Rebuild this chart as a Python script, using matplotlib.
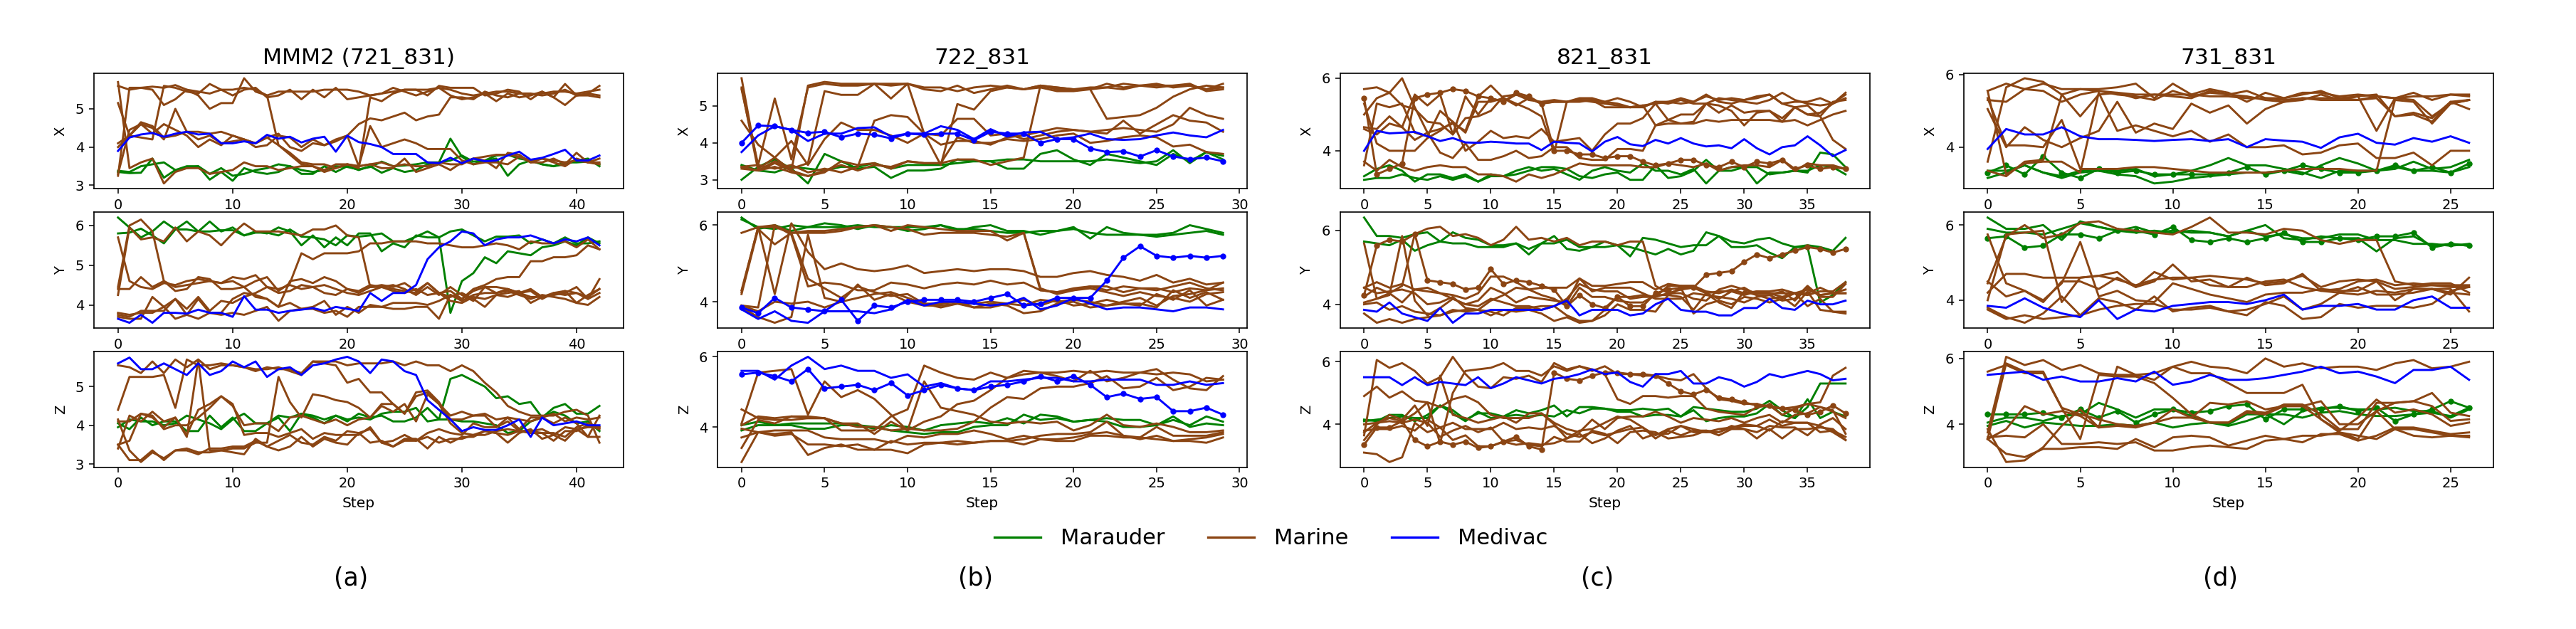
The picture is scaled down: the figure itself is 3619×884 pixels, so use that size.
import numpy as np
import matplotlib
matplotlib.use("Agg")
import matplotlib.pyplot as plt
from matplotlib.lines import Line2D
from matplotlib.ticker import MultipleLocator

# ---------------- data ----------------
titles = ["MMM2 (721_831)", "722_831", "821_831", "731_831"]
sub_labels = ["(a)", "(b)", "(c)", "(d)"]
axis_names = ["X", "Y", "Z"]
unit_names = ["Marauder", "Marine", "Medivac"]
unit_colors = ["green", "saddlebrown", "blue"]

# ---- panel (a) 721_831, 43 steps ----
a_x_marauder = [
    [3.35, 3.32, 3.33, 3.70, 3.20, 3.40, 3.45, 3.50, 3.15, 3.35,
     3.12, 3.45, 3.35, 3.30, 3.35, 3.50, 3.30, 3.30, 3.50, 3.35,
     3.50, 3.40, 3.50, 3.33, 3.45, 3.35, 3.40, 3.55, 3.60, 4.22,
     3.75, 3.55, 3.65, 3.70, 3.25, 3.55, 3.65, 3.55, 3.50, 3.55,
     3.65, 3.70, 3.50],
    [3.38, 3.35, 3.50, 3.55, 3.60, 3.40, 3.50, 3.50, 3.30, 3.45,
     3.25, 3.30, 3.40, 3.45, 3.55, 3.50, 3.40, 3.35, 3.40, 3.50,
     3.48, 3.42, 3.48, 3.62, 3.50, 3.52, 3.55, 3.60, 3.60, 3.65,
     3.78, 3.62, 3.65, 3.78, 3.80, 3.70, 3.65, 3.55, 3.50, 3.60,
     3.60, 3.62, 3.55],
]
a_x_marine = [
    [5.60, 5.50, 5.55, 5.58, 5.55, 5.62, 5.50, 5.45, 5.40, 5.50,
     5.50, 5.55, 5.50, 5.35, 5.45, 5.45, 5.45, 5.45, 5.50, 5.50,
     5.50, 5.45, 5.35, 5.40, 5.45, 5.50, 5.50, 5.50, 5.55, 5.50,
     5.40, 5.35, 5.40, 5.45, 5.45, 5.40, 5.38, 5.40, 5.45, 5.45,
     5.40, 5.45, 5.50],
    [5.15, 4.30, 4.60, 4.50, 4.20, 5.00, 4.40, 4.20, 4.30, 4.10,
     4.15, 4.20, 4.10, 4.25, 4.35, 4.00, 3.90, 4.10, 4.05, 4.15,
     4.30, 4.60, 4.75, 4.70, 4.80, 4.90, 4.70, 4.80, 4.85, 5.30,
     5.30, 5.25, 5.45, 5.35, 5.30, 5.40, 5.40, 5.35, 5.40, 5.50,
     5.35, 5.40, 5.35],
    [5.70, 3.45, 3.60, 3.70, 3.05, 3.35, 3.45, 3.45, 3.30, 3.35,
     3.40, 3.60, 3.50, 3.50, 3.40, 3.45, 3.50, 3.50, 3.35, 3.45,
     3.55, 3.50, 3.55, 3.45, 3.45, 3.70, 3.35, 3.45, 3.55, 3.40,
     3.60, 3.70, 3.65, 3.45, 3.85, 3.80, 3.60, 3.70, 3.60, 3.50,
     3.70, 3.60, 3.55],
    [4.10, 4.30, 4.65, 4.55, 4.25, 4.30, 4.40, 4.40, 4.35, 4.40,
     4.30, 4.20, 4.10, 4.25, 4.05, 3.85, 3.60, 3.55, 3.55, 3.45,
     3.55, 3.50, 3.55, 3.60, 3.50, 3.55, 3.50, 3.50, 3.60, 3.55,
     3.55, 3.70, 3.75, 3.80, 3.80, 3.75, 3.65, 3.70, 3.65, 3.60,
     3.65, 3.60, 3.60],
    [3.25, 5.55, 5.55, 5.50, 5.10, 5.25, 5.50, 5.35, 5.00, 5.15,
     5.15, 5.80, 5.45, 5.35, 4.05, 3.80, 3.55, 3.50, 3.40, 3.55,
     3.55, 3.45, 5.30, 5.20, 5.40, 5.50, 5.50, 5.35, 5.60, 5.55,
     5.55, 5.55, 5.35, 5.40, 5.50, 5.45, 5.25, 5.45, 5.30, 5.65,
     5.35, 5.40, 5.60],
    [4.00, 4.30, 4.25, 4.20, 5.60, 5.55, 5.45, 5.40, 5.65, 5.50,
     5.35, 5.50, 5.55, 5.30, 5.35, 5.50, 5.25, 5.50, 5.30, 5.55,
     5.25, 5.30, 5.35, 5.40, 5.55, 5.45, 5.35, 5.45, 5.55, 5.35,
     5.25, 5.30, 5.40, 5.20, 5.40, 5.30, 5.35, 5.45, 5.30, 5.10,
     5.35, 5.35, 5.30],
    [3.30, 4.45, 4.60, 4.35, 4.60, 4.45, 4.30, 4.00, 4.20, 4.05,
     4.30, 4.20, 4.00, 4.05, 4.30, 4.25, 4.00, 4.20, 4.05, 4.20,
     4.30, 3.50, 4.55, 4.00, 4.10, 4.20, 4.10, 3.95, 3.95, 3.95,
     3.65, 3.55, 3.60, 3.60, 3.55, 3.75, 3.60, 3.60, 3.70, 3.55,
     3.85, 3.60, 3.70],
]
a_x_medivac = [
    [3.90, 4.25, 4.33, 4.37, 4.27, 4.35, 4.40, 4.33, 4.35, 4.10,
     4.10, 4.15, 4.10, 4.32, 4.22, 4.27, 4.12, 4.22, 4.27, 3.88,
     4.30, 4.13, 4.08, 4.00, 3.82, 3.82, 3.82, 3.60, 3.58, 3.72,
     3.58, 3.70, 3.63, 3.65, 3.78, 3.88, 3.67, 3.72, 3.82, 3.93,
     3.65, 3.65, 3.78],
]
a_y_marauder = [
    [6.20, 5.95, 5.70, 5.85, 6.10, 5.90, 6.10, 5.85, 6.10, 5.85,
     5.95, 5.75, 5.85, 5.80, 5.95, 5.85, 5.50, 5.75, 5.45, 5.70,
     5.50, 5.80, 5.80, 5.35, 5.55, 5.45, 5.75, 5.70, 5.70, 3.80,
     4.60, 4.80, 5.20, 5.05, 5.35, 5.30, 5.25, 5.45, 5.50, 5.60,
     5.50, 5.70, 5.55],
    [5.80, 5.82, 5.92, 5.75, 5.55, 5.90, 5.90, 5.85, 5.85, 5.88,
     5.88, 5.75, 5.82, 5.82, 5.75, 5.90, 5.72, 5.70, 5.65, 5.50,
     5.75, 5.72, 5.75, 5.80, 5.60, 5.60, 5.72, 5.85, 5.70, 5.85,
     5.90, 5.75, 5.60, 5.72, 5.72, 5.75, 5.55, 5.65, 5.55, 5.70,
     5.55, 5.55, 5.60],
]
a_y_marine = [
    [5.70, 4.60, 4.45, 4.40, 4.55, 4.50, 4.60, 4.65, 4.60, 4.55,
     4.60, 4.45, 4.60, 4.70, 4.35, 4.55, 5.30, 5.15, 5.30, 5.30,
     5.30, 5.35, 5.55, 5.55, 5.60, 5.60, 5.60, 5.55, 5.55, 5.50,
     5.45, 5.45, 5.50, 5.55, 5.50, 5.40, 5.60, 5.55, 5.55, 5.60,
     5.45, 5.65, 5.40],
    [4.45, 6.00, 6.15, 5.85, 4.60, 4.45, 4.50, 4.55, 4.60, 4.55,
     4.70, 4.65, 4.75, 4.45, 4.40, 4.50, 4.40, 4.45, 4.30, 4.25,
     4.40, 4.35, 4.50, 4.45, 4.35, 4.30, 4.40, 4.25, 4.30, 4.10,
     4.05, 4.20, 4.15, 4.25, 4.30, 4.35, 4.05, 4.20, 4.25, 4.35,
     4.30, 4.20, 4.40],
    [4.25, 5.95, 5.65, 5.70, 5.60, 5.95, 5.60, 5.85, 5.75, 5.50,
     5.80, 6.05, 5.85, 5.85, 5.85, 5.80, 5.75, 5.90, 5.90, 6.00,
     5.75, 5.70, 4.45, 4.45, 4.40, 4.35, 4.30, 4.55, 4.30, 4.35,
     4.15, 4.40, 4.50, 4.65, 4.70, 4.70, 5.10, 5.10, 5.20, 5.20,
     5.25, 5.50, 5.40],
    [4.40, 4.40, 4.70, 4.45, 4.60, 4.35, 4.40, 4.70, 4.65, 4.40,
     4.40, 4.45, 4.20, 4.15, 3.95, 4.60, 4.65, 4.55, 4.70, 4.60,
     4.40, 4.30, 4.45, 4.50, 4.45, 4.55, 4.35, 4.55, 4.30, 4.20,
     4.30, 4.15, 3.95, 4.25, 4.20, 4.30, 4.20, 4.20, 4.25, 4.30,
     4.45, 4.15, 4.65],
    [3.80, 3.75, 3.80, 3.80, 3.95, 4.15, 3.90, 4.20, 3.85, 4.10,
     4.05, 4.20, 4.30, 4.45, 4.30, 4.35, 4.50, 4.45, 4.50, 4.40,
     4.30, 4.25, 4.35, 4.45, 4.50, 4.40, 4.25, 4.45, 4.25, 4.45,
     4.25, 4.10, 4.45, 4.45, 4.40, 4.30, 4.35, 4.15, 4.30, 4.35,
     4.05, 4.25, 4.40],
    [3.70, 3.65, 3.65, 4.20, 3.95, 3.65, 3.75, 3.65, 3.80, 3.75,
     3.80, 3.75, 3.85, 3.95, 3.60, 3.85, 3.90, 3.90, 3.80, 3.85,
     3.70, 3.95, 3.95, 3.95, 3.90, 3.90, 3.95, 3.95, 3.65, 4.25,
     4.10, 4.25, 4.30, 4.30, 4.35, 4.25, 4.15, 4.25, 4.20, 4.15,
     4.05, 4.00, 4.20],
    [3.75, 3.70, 3.85, 3.85, 3.85, 4.15, 3.75, 4.15, 3.80, 3.80,
     4.15, 4.30, 4.25, 4.15, 3.95, 4.05, 3.90, 3.95, 4.10, 3.75,
     3.95, 3.80, 4.00, 3.95, 4.05, 4.05, 4.05, 4.00, 4.10, 4.25,
     4.15, 4.35, 4.45, 4.30, 4.40, 4.30, 4.40, 4.20, 4.30, 4.25,
     4.30, 4.15, 4.30],
]
a_y_medivac = [
    [3.65, 3.55, 3.75, 3.55, 3.80, 3.80, 3.78, 3.88, 3.80, 3.80,
     3.70, 4.22, 3.88, 3.88, 3.80, 3.85, 3.88, 3.92, 3.85, 3.95,
     3.90, 3.85, 4.30, 4.10, 4.30, 4.30, 4.50, 5.15, 5.45, 5.60,
     5.85, 5.80, 5.50, 5.65, 5.70, 5.70, 5.75, 5.65, 5.55, 5.65,
     5.60, 5.70, 5.50],
]
a_z_marauder = [
    [3.95, 4.15, 4.10, 4.10, 4.00, 4.05, 4.25, 4.15, 4.05, 3.90,
     4.15, 4.30, 4.05, 4.05, 4.25, 4.20, 4.30, 4.25, 4.15, 4.25,
     4.10, 4.30, 4.20, 4.25, 4.10, 4.10, 4.20, 4.45, 4.15, 5.20,
     5.30, 5.15, 5.00, 4.70, 4.75, 4.55, 4.60, 4.20, 4.45, 4.55,
     4.30, 4.30, 4.50],
    [4.05, 3.90, 4.20, 4.00, 4.10, 4.10, 3.85, 3.85, 4.25, 3.95,
     4.20, 3.85, 3.85, 4.05, 4.20, 3.85, 4.30, 4.20, 4.05, 4.25,
     4.15, 4.20, 4.15, 4.30, 4.35, 4.35, 4.45, 4.10, 4.15, 4.15,
     4.10, 4.10, 4.05, 4.00, 3.80, 3.85, 4.10, 4.20, 4.35, 4.25,
     4.05, 4.10, 3.85],
]
a_z_marine = [
    [5.55, 5.50, 5.35, 5.65, 5.35, 5.70, 5.50, 5.70, 5.45, 5.55,
     5.55, 5.50, 5.40, 5.50, 5.45, 5.45, 5.35, 5.65, 5.65, 5.65,
     5.55, 5.60, 5.60, 5.60, 5.65, 5.55, 5.65, 5.55, 5.55, 5.40,
     5.55, 5.40, 5.10, 4.85, 4.50, 4.35, 4.25, 4.25, 4.25, 4.35,
     4.40, 4.25, 3.55],
    [4.40, 5.25, 5.25, 5.25, 5.30, 4.45, 5.70, 5.55, 5.55, 5.60,
     5.55, 5.50, 5.45, 5.45, 5.50, 5.40, 5.30, 5.65, 5.60, 5.55,
     5.10, 5.20, 4.85, 4.85, 4.55, 4.30, 4.85, 4.90, 4.60, 4.15,
     4.15, 4.25, 4.25, 3.95, 4.10, 3.85, 3.85, 3.80, 3.60, 3.85,
     3.85, 4.00, 3.90],
    [3.40, 4.25, 4.10, 4.35, 4.10, 4.20, 3.70, 5.70, 3.35, 3.35,
     3.40, 3.40, 3.55, 3.55, 5.25, 4.60, 4.20, 4.80, 4.75, 4.65,
     4.60, 4.45, 4.20, 4.50, 4.35, 4.55, 4.10, 4.80, 4.55, 4.05,
     3.80, 3.75, 3.75, 3.85, 3.90, 3.85, 3.85, 3.90, 3.75, 3.95,
     3.90, 3.95, 3.95],
    [4.15, 3.35, 3.05, 3.30, 3.15, 3.35, 3.40, 3.30, 3.30, 3.35,
     3.30, 3.25, 3.65, 3.45, 3.60, 3.75, 3.55, 3.50, 3.70, 3.60,
     3.85, 3.80, 3.55, 3.60, 3.45, 3.60, 3.60, 3.70, 3.55, 3.65,
     3.65, 3.75, 3.85, 3.80, 3.55, 3.80, 3.90, 3.65, 3.75, 3.60,
     3.90, 3.70, 3.70],
    [3.50, 3.10, 3.10, 3.35, 3.10, 3.35, 3.35, 3.25, 3.40, 3.40,
     3.45, 3.45, 3.60, 3.45, 3.35, 3.45, 3.70, 3.45, 3.65, 3.55,
     3.50, 3.80, 3.90, 3.55, 3.45, 3.65, 3.65, 3.40, 3.70, 3.55,
     3.70, 3.70, 3.85, 3.80, 3.75, 3.85, 3.80, 3.80, 3.80, 3.70,
     3.95, 4.05, 3.95],
    [3.50, 3.60, 4.30, 4.20, 3.95, 4.20, 3.75, 4.40, 4.55, 4.75,
     4.55, 3.75, 3.80, 3.80, 3.70, 3.80, 3.90, 3.65, 3.80, 3.75,
     3.75, 3.75, 3.95, 3.55, 3.60, 3.75, 3.60, 3.80, 3.90, 3.80,
     3.75, 4.05, 3.95, 3.95, 4.20, 3.90, 4.20, 4.20, 4.05, 4.20,
     4.05, 3.70, 4.25],
    [4.10, 4.10, 4.30, 4.25, 3.90, 4.00, 4.00, 4.20, 4.45, 4.75,
     4.50, 4.00, 4.05, 4.05, 3.85, 4.20, 4.25, 4.15, 4.05, 4.15,
     4.00, 4.15, 4.20, 4.55, 4.55, 4.30, 4.75, 4.85, 4.55, 4.25,
     4.35, 4.25, 4.30, 4.15, 4.20, 4.15, 4.10, 4.20, 4.30, 4.10,
     4.20, 4.15, 4.20],
]
a_z_medivac = [
    [5.60, 5.75, 5.45, 5.45, 5.60, 5.45, 5.30, 5.60, 5.30, 5.40,
     5.65, 5.50, 5.65, 5.25, 5.45, 5.50, 5.30, 5.55, 5.60, 5.70,
     5.77, 5.65, 5.35, 5.70, 5.65, 5.40, 5.30, 4.65, 4.40, 4.15,
     3.85, 3.95, 3.88, 3.88, 4.00, 4.15, 3.70, 4.20, 4.00, 4.05,
     4.10, 4.00, 4.00],
]

# ---- panel (b) 722_831, 30 steps ----
b_x_marauder = [
    [3.00, 3.35, 3.55, 3.30, 2.90, 3.70, 3.50, 3.30, 3.35, 3.05,
     3.25, 3.25, 3.30, 3.55, 3.50, 3.50, 3.30, 3.30, 3.70, 3.80,
     3.55, 3.40, 3.70, 3.60, 3.50, 3.40, 3.70, 3.50, 3.75, 3.65],
    [3.40, 3.25, 3.20, 3.35, 3.30, 3.25, 3.35, 3.35, 3.45, 3.30,
     3.40, 3.40, 3.40, 3.45, 3.50, 3.50, 3.55, 3.55, 3.50, 3.50,
     3.50, 3.50, 3.55, 3.50, 3.45, 3.50, 3.80, 3.45, 3.75, 3.55],
]
b_x_marine = [
    [5.75, 3.30, 3.60, 3.25, 5.55, 5.65, 5.60, 5.60, 5.60, 5.60,
     5.60, 5.45, 5.40, 5.55, 5.35, 5.45, 5.55, 5.45, 5.55, 5.45,
     5.45, 5.45, 5.60, 5.50, 5.55, 5.60, 5.50, 5.55, 5.45, 5.60],
    [5.45, 3.40, 5.20, 3.55, 5.50, 5.60, 5.55, 5.55, 5.60, 5.55,
     5.60, 5.50, 5.50, 5.40, 5.50, 5.55, 5.50, 5.45, 5.55, 5.50,
     5.45, 5.50, 5.50, 5.60, 5.55, 5.55, 5.55, 5.55, 5.45, 5.50],
    [5.50, 3.25, 3.50, 3.30, 3.45, 5.40, 5.30, 5.30, 5.60, 5.20,
     5.60, 4.25, 3.40, 5.05, 4.90, 5.40, 5.50, 5.45, 5.50, 5.40,
     5.40, 5.45, 4.65, 4.70, 4.75, 4.95, 5.25, 5.45, 5.55, 5.50],
    [4.60, 3.95, 3.60, 4.05, 3.40, 4.10, 4.55, 4.35, 4.35, 4.20,
     4.00, 4.25, 4.20, 4.65, 4.65, 4.20, 4.25, 4.10, 4.20, 4.30,
     4.35, 4.30, 4.35, 4.40, 4.35, 4.30, 4.50, 4.95, 4.75, 4.65],
    [3.35, 3.40, 3.30, 3.40, 3.20, 3.30, 3.20, 3.35, 4.60, 4.75,
     4.70, 4.25, 3.95, 4.05, 4.05, 3.95, 4.15, 4.20, 4.30, 4.40,
     4.35, 4.30, 4.25, 4.60, 4.25, 4.50, 4.75, 4.60, 4.55, 4.30],
    [3.30, 3.25, 3.45, 3.25, 3.10, 3.20, 3.50, 3.40, 3.45, 3.30,
     3.50, 3.45, 3.45, 3.55, 3.55, 3.40, 3.50, 3.60, 5.55, 5.50,
     5.45, 5.45, 5.50, 5.45, 5.55, 5.50, 5.55, 5.60, 5.40, 5.45],
    [3.35, 3.25, 3.35, 3.20, 3.10, 3.25, 3.40, 3.25, 3.40, 3.35,
     3.50, 3.45, 3.45, 4.15, 4.00, 4.00, 4.10, 4.05, 4.10, 4.20,
     4.25, 4.00, 4.05, 4.15, 4.20, 4.15, 3.90, 3.95, 3.75, 3.70],
]
b_x_medivac = [
    [4.00, 4.47, 4.45, 4.35, 4.27, 4.30, 4.15, 4.25, 4.22, 4.12,
     4.25, 4.22, 4.25, 4.25, 4.07, 4.30, 4.25, 4.25, 4.00, 4.10,
     4.10, 3.85, 3.75, 3.77, 3.63, 3.80, 3.63, 3.56, 3.60, 3.50],
    [3.75, 4.20, 4.45, 4.35, 4.05, 4.25, 4.25, 4.40, 4.42, 4.17,
     4.25, 4.25, 4.45, 4.35, 4.10, 4.37, 4.17, 4.28, 4.30, 4.10,
     4.15, 4.25, 4.10, 4.08, 4.10, 4.20, 4.28, 4.20, 4.15, 4.35],
]
b_y_marauder = [
    [6.20, 5.90, 6.00, 5.85, 5.95, 6.05, 6.00, 5.90, 6.00, 5.95,
     5.95, 5.95, 6.00, 5.90, 5.90, 5.85, 5.80, 5.80, 5.85, 5.85,
     5.90, 5.80, 5.75, 5.75, 5.75, 5.70, 5.75, 5.80, 5.85, 5.75],
    [6.15, 5.95, 5.90, 6.00, 5.95, 5.95, 5.95, 6.00, 5.95, 5.95,
     5.85, 5.90, 6.00, 5.85, 5.95, 6.00, 5.85, 5.85, 5.75, 5.85,
     5.95, 5.65, 5.95, 5.80, 5.75, 5.75, 5.80, 6.00, 5.90, 5.80],
]
b_y_marine = [
    [5.80, 5.95, 6.00, 5.80, 5.80, 5.80, 5.85, 5.95, 6.00, 5.85,
     6.00, 5.95, 5.90, 5.85, 5.85, 5.85, 5.60, 5.80, 4.35, 4.20,
     4.30, 4.40, 4.40, 4.25, 4.35, 4.30, 4.40, 4.50, 4.35, 4.30],
    [4.20, 5.90, 5.50, 5.80, 5.85, 5.85, 5.90, 5.95, 6.00, 5.95,
     5.90, 5.75, 5.80, 5.80, 5.80, 5.75, 5.70, 5.80, 4.30, 4.25,
     4.35, 4.40, 4.30, 4.40, 4.35, 4.35, 4.25, 4.35, 4.30, 4.35],
    [4.30, 5.95, 4.20, 6.05, 5.30, 4.85, 5.00, 4.85, 4.80, 4.85,
     4.95, 4.75, 4.80, 4.85, 4.80, 4.85, 4.85, 4.80, 4.65, 4.65,
     4.75, 4.80, 4.70, 4.65, 4.55, 4.70, 4.50, 4.60, 4.45, 4.50],
    [3.90, 3.85, 6.00, 5.75, 4.40, 4.50, 4.45, 4.30, 4.30, 4.50,
     4.45, 4.35, 4.45, 4.50, 4.45, 4.55, 4.45, 4.50, 4.30, 4.25,
     4.30, 4.35, 4.25, 4.15, 4.25, 4.15, 4.10, 4.00, 4.20, 4.25],
    [3.85, 3.60, 3.45, 3.60, 5.75, 4.10, 4.00, 4.10, 4.20, 4.25,
     4.10, 3.95, 3.95, 4.00, 3.85, 3.95, 3.90, 3.70, 3.75, 3.95,
     4.00, 3.85, 3.90, 4.00, 4.10, 3.90, 4.15, 4.20, 4.30, 4.50],
    [4.25, 5.95, 5.95, 5.80, 4.60, 4.35, 4.10, 4.40, 4.25, 4.15,
     4.20, 3.95, 3.85, 3.95, 3.85, 3.85, 3.95, 3.90, 4.05, 4.00,
     4.05, 4.00, 3.90, 3.95, 3.95, 3.85, 4.30, 4.10, 4.25, 4.05],
    [3.90, 3.75, 4.00, 3.95, 4.00, 3.85, 4.00, 4.45, 4.05, 4.20,
     4.00, 3.90, 3.90, 3.95, 3.95, 4.00, 3.95, 4.05, 3.90, 4.05,
     3.90, 3.95, 4.05, 3.95, 3.90, 4.20, 4.05, 4.30, 3.90, 4.05],
]
b_y_medivac = [
    [3.85, 3.70, 4.10, 3.85, 3.80, 3.75, 4.05, 3.50, 3.90, 3.85,
     4.00, 4.05, 4.05, 4.05, 4.00, 4.10, 4.20, 3.90, 3.95, 4.10,
     4.10, 4.10, 4.55, 5.15, 5.45, 5.20, 5.15, 5.20, 5.15, 5.20],
    [3.80, 3.55, 3.75, 3.50, 3.45, 3.75, 3.75, 3.75, 3.70, 3.80,
     4.05, 3.90, 4.00, 4.00, 3.95, 3.90, 3.95, 4.10, 3.80, 3.90,
     4.10, 3.95, 3.80, 3.85, 3.85, 3.80, 3.75, 3.85, 3.85, 3.80],
]
b_z_marauder = [
    [4.05, 4.15, 4.05, 4.10, 4.10, 4.10, 4.10, 4.05, 3.95, 4.05,
     4.00, 3.90, 4.05, 4.10, 4.15, 4.10, 4.25, 4.10, 4.35, 4.30,
     4.15, 4.20, 4.25, 4.20, 4.20, 4.05, 4.20, 4.05, 4.30, 4.15],
    [3.90, 4.05, 4.05, 4.05, 3.95, 3.95, 4.05, 4.05, 4.00, 3.90,
     3.85, 3.80, 3.85, 3.85, 4.00, 4.05, 4.05, 4.35, 4.20, 4.25,
     4.15, 4.20, 4.15, 4.00, 4.00, 4.05, 4.30, 4.00, 4.10, 4.05],
]
b_z_marine = [
    [4.50, 4.25, 4.20, 4.20, 4.25, 4.25, 3.90, 3.90, 3.90, 4.30,
     4.50, 5.75, 5.55, 5.40, 5.35, 5.55, 5.40, 5.60, 5.55, 5.55,
     5.60, 5.55, 5.60, 5.55, 5.55, 5.50, 5.55, 5.50, 5.30, 5.35],
    [4.05, 4.30, 4.25, 4.30, 4.25, 4.25, 4.10, 4.00, 4.00, 3.90,
     3.95, 3.90, 3.90, 3.95, 4.15, 4.55, 4.85, 4.80, 5.10, 5.15,
     5.15, 5.25, 5.45, 5.10, 5.15, 5.40, 5.05, 5.15, 5.40, 5.35],
    [4.10, 5.55, 5.60, 5.65, 4.35, 5.30, 4.85, 5.05, 4.80, 4.35,
     3.90, 5.30, 4.55, 4.45, 4.35, 4.15, 4.10, 4.15, 4.10, 4.15,
     3.90, 4.05, 4.35, 4.05, 4.00, 4.10, 4.00, 3.85, 3.85, 3.90],
    [3.40, 4.20, 4.10, 4.30, 4.30, 4.25, 4.10, 4.10, 3.80, 4.15,
     3.90, 4.15, 4.30, 4.65, 4.75, 5.05, 5.40, 5.50, 5.55, 5.45,
     5.30, 5.60, 5.30, 5.40, 5.55, 5.65, 5.35, 5.10, 5.05, 5.45],
    [3.70, 3.85, 3.90, 3.90, 3.90, 3.70, 3.65, 3.65, 3.65, 3.55,
     3.75, 3.70, 3.80, 3.80, 3.90, 3.80, 3.65, 3.75, 3.65, 3.65,
     3.70, 3.80, 3.85, 3.75, 3.65, 3.75, 3.60, 3.60, 3.55, 3.70],
    [3.95, 3.85, 3.75, 3.80, 3.50, 3.50, 3.45, 3.50, 3.35, 3.35,
     3.25, 3.50, 3.55, 3.50, 3.55, 3.60, 3.60, 3.50, 3.65, 3.60,
     3.60, 3.75, 3.75, 3.70, 3.70, 3.65, 3.60, 3.65, 3.70, 3.80],
    [3.00, 3.85, 3.80, 3.85, 3.20, 3.40, 3.50, 3.35, 3.35, 3.60,
     3.50, 3.55, 3.55, 3.60, 3.55, 3.60, 3.60, 3.65, 3.75, 3.80,
     3.80, 3.85, 4.15, 3.75, 3.70, 4.00, 3.75, 3.75, 3.75, 3.85],
]
b_z_medivac = [
    [5.50, 5.55, 5.45, 5.30, 5.65, 5.10, 5.15, 5.20, 5.05, 5.25,
     4.90, 5.05, 5.20, 5.10, 5.05, 5.15, 5.20, 5.30, 5.45, 5.30,
     5.45, 5.20, 4.85, 4.95, 4.80, 4.85, 4.45, 4.45, 4.55, 4.35],
    [5.60, 5.60, 5.35, 5.75, 6.00, 5.65, 5.75, 5.60, 5.60, 5.40,
     5.50, 5.15, 5.25, 5.10, 5.05, 5.30, 5.30, 5.35, 5.40, 5.40,
     5.30, 5.30, 5.35, 5.35, 5.35, 5.20, 5.20, 5.30, 5.20, 5.25],
]

# ---- panel (c) 821_831, 39 steps ----
c_x_marauder = [
    [3.30, 3.50, 3.60, 3.45, 3.15, 3.35, 3.35, 3.25, 3.35, 3.15,
     3.35, 3.30, 3.45, 3.55, 3.45, 3.50, 3.35, 3.20, 3.45, 3.55,
     3.45, 3.40, 3.65, 3.45, 3.45, 3.35, 3.50, 3.10, 3.45, 3.45,
     3.55, 3.10, 3.40, 3.40, 3.45, 3.40, 3.95, 3.90, 3.55],
    [3.20, 3.25, 3.25, 3.35, 3.25, 3.20, 3.30, 3.20, 3.30, 3.15,
     3.30, 3.30, 3.35, 3.45, 3.55, 3.55, 3.50, 3.30, 3.25, 3.35,
     3.40, 3.20, 3.20, 3.60, 3.25, 3.30, 3.45, 3.75, 3.45, 3.55,
     3.55, 3.55, 3.35, 3.40, 3.45, 3.45, 3.60, 3.55, 3.35],
]
c_x_marine = [
    [5.45, 3.35, 3.50, 3.65, 5.45, 5.55, 5.60, 5.70, 5.65, 5.50,
     5.45, 5.35, 5.60, 5.50, 5.30, 4.00, 4.00, 3.90, 3.90, 3.80,
     3.85, 3.85, 3.70, 3.60, 3.65, 3.75, 3.75, 3.60, 3.55, 3.70,
     3.55, 3.70, 3.65, 3.75, 3.50, 3.60, 3.50, 3.55, 3.50],
    [5.70, 5.75, 5.60, 5.25, 5.15, 4.80, 4.75, 4.45, 4.90, 4.95,
     5.10, 5.50, 5.55, 5.45, 5.30, 5.35, 5.35, 5.45, 5.45, 5.35,
     5.45, 5.35, 5.20, 5.35, 5.35, 5.45, 5.35, 5.55, 5.35, 5.30,
     5.40, 5.45, 5.55, 5.30, 5.35, 5.35, 5.45, 5.30, 5.55],
    [5.00, 5.45, 5.60, 6.00, 5.20, 4.50, 4.60, 4.75, 4.55, 5.50,
     5.80, 5.45, 5.25, 5.45, 5.30, 5.35, 5.35, 5.40, 5.40, 5.35,
     5.30, 5.20, 5.20, 5.35, 5.30, 5.40, 5.30, 5.30, 5.45, 5.40,
     5.35, 5.30, 5.40, 5.60, 5.40, 5.30, 5.25, 5.30, 5.60],
    [3.60, 5.30, 5.20, 5.30, 4.50, 4.40, 5.10, 4.80, 4.50, 5.35,
     5.35, 5.45, 5.30, 5.15, 4.95, 3.95, 5.35, 5.40, 5.35, 5.30,
     5.25, 5.20, 5.25, 5.30, 4.85, 5.00, 5.00, 5.30, 5.05, 5.25,
     5.05, 5.10, 5.10, 4.90, 5.20, 5.00, 5.05, 5.30, 5.45],
    [4.65, 4.60, 4.95, 4.65, 5.55, 5.25, 5.55, 4.45, 5.50, 5.00,
     5.45, 5.35, 5.55, 5.40, 5.35, 5.40, 5.35, 5.35, 5.40, 5.20,
     5.20, 5.20, 5.25, 4.70, 4.75, 4.75, 4.80, 5.30, 5.25, 5.10,
     4.70, 5.05, 5.10, 4.80, 5.20, 5.25, 4.95, 5.35, 5.40],
    [5.30, 4.20, 4.00, 4.00, 4.00, 4.35, 4.55, 4.80, 4.00, 4.25,
     4.55, 4.35, 4.40, 4.35, 4.60, 4.25, 4.30, 4.35, 4.00, 4.45,
     4.75, 4.75, 4.90, 5.30, 5.35, 5.30, 5.35, 5.50, 5.40, 5.45,
     5.40, 5.50, 5.55, 5.30, 5.20, 5.00, 4.95, 4.30, 4.05],
    [4.60, 4.45, 4.75, 4.65, 4.30, 4.50, 3.95, 3.80, 4.20, 3.75,
     3.75, 3.85, 4.00, 3.80, 3.85, 4.10, 4.10, 3.80, 3.75, 3.75,
     4.05, 4.05, 4.00, 4.70, 4.85, 4.75, 4.75, 4.85, 4.80, 4.85,
     4.85, 4.85, 4.85, 4.80, 4.85, 4.70, 4.85, 5.00, 5.10],
    [3.70, 3.45, 3.75, 3.55, 3.45, 3.55, 3.60, 3.55, 3.55, 3.35,
     3.35, 3.30, 3.15, 3.35, 3.25, 3.35, 3.50, 3.65, 3.60, 3.60,
     3.60, 3.60, 3.55, 3.55, 3.65, 3.60, 3.55, 3.65, 3.45, 3.55,
     3.60, 3.60, 3.55, 3.75, 3.45, 3.65, 3.60, 3.60, 3.50],
]
c_x_medivac = [
    [4.00, 4.55, 4.48, 4.50, 4.52, 4.40, 4.27, 4.35, 4.23, 4.22,
     4.25, 4.23, 4.20, 4.20, 4.02, 4.25, 4.22, 4.20, 3.98, 4.25,
     4.38, 4.18, 4.13, 4.30, 4.20, 4.35, 4.20, 4.12, 4.15, 4.07,
     4.32, 4.07, 3.90, 4.10, 4.15, 4.40, 4.15, 3.85, 4.02],
]
c_y_marauder = [
    [6.35, 5.85, 5.85, 5.80, 5.90, 5.95, 5.70, 5.95, 5.80, 5.75,
     5.60, 5.60, 5.65, 5.35, 5.65, 5.85, 5.50, 5.45, 5.55, 5.55,
     5.60, 5.30, 5.80, 5.75, 5.65, 5.55, 5.60, 5.60, 5.85, 5.70,
     5.65, 5.75, 5.80, 5.65, 5.55, 5.55, 4.05, 4.25, 4.60],
    [5.70, 5.65, 5.60, 5.75, 5.45, 5.60, 5.70, 5.65, 5.65, 5.55,
     5.55, 5.55, 5.65, 5.50, 5.65, 5.65, 5.75, 5.55, 5.55, 5.70,
     5.60, 5.55, 5.45, 5.35, 5.50, 5.35, 5.45, 5.95, 5.85, 5.55,
     5.55, 5.60, 5.40, 5.25, 5.55, 5.60, 5.55, 5.45, 5.80],
]
c_y_marine = [
    [4.25, 5.60, 5.75, 5.70, 5.90, 4.65, 4.60, 4.55, 4.40, 4.45,
     4.95, 4.55, 4.65, 4.60, 4.50, 4.40, 3.95, 4.25, 4.00, 3.90,
     4.20, 3.95, 3.95, 4.30, 4.40, 4.45, 4.45, 4.80, 4.85, 4.90,
     5.15, 5.35, 5.25, 5.35, 5.45, 5.55, 5.50, 5.40, 5.50],
    [5.65, 4.15, 4.30, 4.50, 5.90, 6.05, 6.10, 5.85, 5.90, 5.80,
     5.60, 5.75, 6.10, 5.75, 5.80, 5.70, 5.80, 5.60, 5.70, 5.70,
     5.60, 5.70, 5.70, 4.50, 4.30, 4.40, 4.45, 4.30, 4.35, 4.35,
     4.25, 4.35, 4.30, 4.30, 4.30, 4.25, 4.35, 4.35, 4.60],
    [4.45, 4.60, 4.45, 4.55, 4.40, 4.45, 4.30, 4.25, 4.15, 4.30,
     4.75, 4.75, 4.60, 4.40, 4.45, 4.45, 4.45, 4.70, 4.50, 4.50,
     4.55, 4.60, 4.60, 4.40, 4.55, 4.50, 4.50, 4.35, 4.30, 4.40,
     4.30, 4.35, 4.35, 4.40, 4.30, 4.30, 4.45, 4.30, 4.30],
    [4.20, 4.45, 4.30, 4.05, 4.40, 4.35, 4.30, 4.15, 4.00, 4.10,
     4.45, 4.30, 4.05, 4.20, 4.15, 4.10, 4.05, 4.70, 4.35, 4.45,
     4.45, 4.45, 4.30, 4.15, 4.15, 4.15, 4.30, 4.25, 4.20, 4.15,
     4.05, 4.20, 4.25, 4.10, 4.15, 4.50, 4.20, 4.20, 4.55],
    [4.05, 4.15, 4.25, 5.85, 4.10, 3.70, 3.90, 4.15, 4.00, 3.95,
     4.15, 4.05, 3.95, 3.95, 3.85, 3.95, 4.15, 4.55, 4.40, 4.35,
     4.35, 4.15, 4.20, 4.20, 4.30, 4.30, 4.15, 4.10, 4.40, 4.50,
     4.40, 4.30, 4.30, 4.20, 4.30, 4.40, 4.25, 4.30, 4.30],
    [3.75, 3.50, 3.60, 3.50, 3.60, 3.65, 3.70, 3.80, 3.85, 3.85,
     3.70, 3.85, 3.80, 3.85, 3.75, 3.55, 3.65, 3.50, 3.55, 3.85,
     4.20, 4.20, 4.25, 4.20, 4.50, 4.50, 4.50, 4.30, 4.15, 4.35,
     4.45, 4.25, 4.25, 4.35, 4.10, 4.45, 4.25, 4.30, 4.40],
    [4.00, 4.05, 3.85, 3.95, 3.80, 3.75, 3.70, 3.85, 3.80, 3.85,
     3.80, 3.70, 3.90, 3.90, 3.95, 3.95, 3.70, 3.55, 3.55, 3.70,
     4.00, 3.85, 3.85, 3.80, 4.25, 4.45, 3.75, 4.00, 4.10, 4.00,
     4.20, 4.15, 4.05, 4.15, 4.30, 3.95, 4.15, 3.80, 3.75],
    [4.45, 4.30, 4.35, 4.40, 4.30, 4.00, 4.05, 4.20, 3.90, 3.85,
     4.10, 4.25, 4.45, 4.40, 4.25, 4.15, 3.95, 4.45, 4.20, 4.20,
     4.10, 4.05, 4.05, 4.25, 4.25, 4.20, 3.85, 4.30, 4.05, 3.90,
     4.35, 4.25, 4.15, 4.20, 3.95, 4.35, 3.85, 3.80, 3.80],
]
c_y_medivac = [
    [3.85, 3.80, 4.05, 3.75, 3.65, 3.55, 3.90, 3.50, 3.75, 3.75,
     3.85, 3.85, 3.85, 3.85, 3.85, 3.95, 4.10, 3.70, 3.85, 3.85,
     3.85, 3.70, 3.75, 4.00, 4.15, 3.85, 3.80, 3.80, 3.70, 3.70,
     3.90, 3.90, 4.15, 3.90, 3.85, 4.10, 4.00, 4.00, 4.10],
]
c_z_marauder = [
    [4.15, 4.10, 4.30, 4.30, 4.10, 4.30, 4.60, 4.45, 4.15, 4.35,
     4.35, 4.25, 4.45, 4.35, 4.45, 4.60, 4.25, 4.55, 4.55, 4.50,
     4.45, 4.45, 4.50, 4.45, 4.50, 4.25, 4.55, 4.50, 4.45, 4.40,
     4.40, 4.50, 4.75, 4.45, 4.20, 4.80, 4.20, 4.40, 4.25],
    [4.10, 4.15, 4.20, 4.25, 4.20, 4.20, 4.60, 4.35, 4.10, 4.40,
     4.20, 4.25, 4.30, 4.25, 4.30, 4.25, 4.45, 4.35, 4.50, 4.50,
     4.40, 4.40, 4.25, 4.30, 4.30, 4.25, 4.45, 4.10, 4.20, 4.25,
     4.25, 4.35, 4.65, 4.30, 4.20, 4.55, 5.30, 5.30, 5.30],
]
c_z_marine = [
    [3.35, 3.90, 3.90, 4.10, 3.50, 3.30, 3.45, 3.35, 3.45, 3.25,
     3.30, 3.45, 3.60, 3.30, 3.20, 5.65, 5.45, 5.40, 5.55, 5.65,
     5.65, 5.60, 5.60, 5.55, 5.30, 5.05, 4.95, 5.10, 4.85, 4.80,
     4.70, 4.60, 4.60, 4.50, 4.45, 4.30, 4.40, 4.60, 4.35],
    [3.65, 6.05, 5.80, 5.95, 5.70, 5.30, 5.50, 6.15, 5.60, 5.20,
     5.15, 5.50, 5.45, 5.55, 5.35, 5.95, 5.75, 5.85, 5.70, 5.85,
     5.60, 5.60, 5.55, 5.55, 5.45, 5.40, 5.60, 5.15, 4.80, 4.75,
     4.65, 4.65, 4.55, 4.50, 4.55, 4.65, 4.70, 5.55, 5.80],
    [4.90, 5.20, 4.85, 5.05, 4.75, 4.70, 3.40, 5.00, 5.70, 5.75,
     5.80, 5.95, 5.70, 5.70, 5.55, 5.85, 5.70, 5.85, 5.75, 5.60,
     4.80, 4.65, 4.90, 4.90, 4.85, 4.90, 4.90, 4.50, 4.40, 4.35,
     4.30, 4.55, 4.60, 4.30, 4.50, 4.65, 4.55, 4.40, 4.20],
    [3.10, 3.05, 2.80, 2.95, 4.05, 3.75, 3.90, 4.05, 3.85, 3.85,
     3.85, 4.05, 3.85, 3.90, 3.85, 3.95, 3.70, 3.60, 3.75, 3.65,
     3.75, 3.85, 3.90, 3.55, 3.80, 3.65, 3.80, 3.80, 3.65, 3.85,
     3.85, 3.55, 3.85, 3.55, 3.85, 3.85, 3.90, 3.85, 3.50],
    [3.50, 4.00, 4.30, 4.15, 4.60, 3.95, 5.55, 4.30, 4.20, 4.05,
     4.15, 4.25, 4.05, 4.35, 4.35, 4.05, 3.85, 3.75, 4.15, 3.85,
     4.20, 4.25, 4.25, 4.40, 4.25, 4.05, 4.20, 4.15, 4.10, 4.20,
     4.05, 4.20, 4.30, 4.05, 4.30, 4.35, 4.55, 4.45, 3.70],
    [3.75, 4.05, 4.10, 4.05, 4.15, 4.05, 3.60, 3.80, 3.95, 3.75,
     3.90, 3.45, 3.35, 3.40, 3.35, 3.40, 3.55, 3.70, 3.40, 3.55,
     3.80, 3.95, 3.55, 3.70, 3.70, 3.95, 3.75, 3.75, 3.85, 3.90,
     4.00, 3.95, 4.15, 3.95, 4.05, 4.05, 3.95, 3.75, 3.50],
    [4.00, 4.05, 4.20, 4.10, 4.35, 4.70, 4.55, 4.80, 4.90, 4.70,
     4.30, 4.20, 4.20, 4.20, 4.35, 4.00, 3.55, 3.80, 3.85, 4.05,
     4.25, 4.15, 3.90, 3.65, 3.85, 3.95, 3.85, 3.75, 3.75, 3.90,
     3.95, 3.95, 3.80, 4.10, 4.05, 4.05, 3.75, 3.80, 3.60],
    [3.80, 3.85, 3.85, 3.95, 3.80, 4.15, 3.90, 3.50, 3.65, 3.30,
     3.30, 3.45, 3.50, 3.35, 3.30, 3.60, 3.45, 3.45, 3.80, 3.70,
     3.40, 3.75, 3.80, 3.75, 3.55, 3.60, 3.65, 3.80, 3.75, 3.95,
     3.85, 3.75, 3.95, 3.90, 3.90, 3.65, 4.00, 4.20, 3.85],
]
c_z_medivac = [
    [5.50, 5.50, 5.50, 5.25, 5.50, 5.25, 5.35, 5.30, 5.25, 5.50,
     5.15, 5.30, 5.50, 5.40, 5.30, 5.45, 5.50, 5.60, 5.75, 5.60,
     5.65, 5.35, 5.20, 5.60, 5.60, 5.70, 5.30, 5.30, 5.50, 5.40,
     5.20, 5.35, 5.60, 5.50, 5.60, 5.70, 5.60, 5.40, 5.45],
]

# ---- panel (d) 731_831, 27 steps ----
d_x_marauder = [
    [3.30, 3.50, 3.25, 3.75, 3.30, 3.15, 3.40, 3.30, 3.35, 3.25,
     3.25, 3.25, 3.25, 3.30, 3.45, 3.25, 3.35, 3.50, 3.40, 3.30,
     3.30, 3.35, 3.50, 3.35, 3.45, 3.30, 3.55],
    [3.35, 3.35, 3.50, 3.30, 3.20, 3.35, 3.40, 3.35, 3.40, 3.20,
     3.25, 3.35, 3.50, 3.70, 3.50, 3.50, 3.40, 3.30, 3.15, 3.35,
     3.35, 3.35, 3.45, 3.35, 3.35, 3.30, 3.45],
    [3.15, 3.30, 3.50, 3.30, 3.15, 3.30, 3.35, 3.25, 3.20, 3.00,
     3.05, 3.15, 3.20, 3.25, 3.30, 3.30, 3.35, 3.25, 3.50, 3.70,
     3.55, 3.35, 3.40, 3.60, 3.40, 3.45, 3.65],
]
d_x_marine = [
    [5.55, 5.75, 5.60, 5.75, 5.60, 5.60, 5.60, 5.65, 5.75, 5.35,
     5.75, 5.45, 5.60, 5.50, 5.25, 5.50, 5.35, 5.45, 5.55, 5.35,
     5.30, 5.40, 5.35, 5.50, 5.30, 5.45, 5.45],
    [5.30, 5.25, 5.60, 5.55, 5.25, 5.45, 5.55, 5.50, 5.45, 5.45,
     5.45, 5.45, 5.40, 5.40, 5.35, 5.35, 5.35, 5.50, 5.50, 5.40,
     5.45, 5.40, 5.35, 5.40, 5.40, 5.45, 5.40],
    [5.55, 3.25, 3.55, 3.60, 3.60, 3.30, 5.50, 4.45, 4.60, 4.45,
     4.30, 4.45, 4.15, 4.35, 4.00, 4.00, 4.05, 3.80, 3.85, 4.05,
     4.10, 3.70, 3.70, 3.85, 3.50, 3.90, 3.90],
    [5.05, 4.00, 4.55, 4.20, 4.00, 4.25, 4.45, 5.25, 4.40, 4.65,
     4.50, 5.20, 4.95, 5.15, 4.65, 5.05, 5.25, 5.30, 5.45, 5.30,
     5.40, 4.45, 5.35, 5.30, 4.85, 5.20, 5.30],
    [3.60, 5.65, 5.90, 5.80, 5.45, 4.85, 5.45, 5.50, 5.35, 5.45,
     5.40, 5.35, 5.55, 5.45, 5.55, 5.35, 5.30, 5.35, 5.35, 5.35,
     5.40, 5.45, 4.85, 4.95, 4.80, 5.25, 5.30],
    [5.35, 4.05, 4.05, 4.00, 4.75, 3.40, 3.40, 3.40, 3.45, 3.45,
     3.40, 3.35, 3.30, 3.30, 3.30, 3.30, 3.35, 3.40, 3.40, 3.40,
     3.35, 3.35, 5.30, 5.25, 4.65, 5.20, 5.30],
    [3.35, 3.20, 3.60, 3.65, 5.45, 5.60, 5.55, 5.45, 5.40, 5.30,
     5.55, 5.40, 5.50, 5.45, 5.40, 5.30, 5.25, 5.35, 5.30, 5.30,
     5.30, 5.35, 4.85, 4.90, 4.70, 5.25, 5.05],
]
d_x_medivac = [
    [3.95, 4.50, 4.35, 4.35, 4.55, 4.30, 4.22, 4.22, 4.20, 4.17,
     4.20, 4.22, 4.17, 4.22, 4.00, 4.22, 4.18, 4.15, 3.98, 4.27,
     4.37, 4.12, 4.07, 4.25, 4.15, 4.30, 4.12],
]
d_y_marauder = [
    [5.65, 5.70, 5.40, 5.45, 5.75, 5.75, 5.65, 5.85, 5.85, 5.75,
     5.95, 5.60, 5.55, 5.65, 5.55, 5.65, 5.80, 5.55, 5.55, 5.65,
     5.60, 5.70, 5.70, 5.80, 5.40, 5.50, 5.45],
    [6.20, 5.90, 5.90, 6.00, 5.60, 6.10, 5.95, 5.85, 5.80, 5.85,
     5.80, 5.85, 5.80, 5.70, 5.85, 6.00, 5.65, 5.60, 5.70, 5.65,
     5.65, 5.30, 5.65, 5.70, 5.45, 5.50, 5.45],
    [5.90, 5.80, 5.80, 5.75, 5.90, 6.05, 5.95, 5.85, 5.95, 5.80,
     5.85, 5.80, 5.80, 5.70, 5.85, 5.70, 5.75, 5.65, 5.65, 5.75,
     5.75, 5.60, 5.60, 5.50, 5.50, 5.45, 5.50],
]
d_y_marine = [
    [4.45, 5.70, 6.00, 5.65, 5.75, 6.05, 6.10, 5.90, 5.85, 5.80,
     5.75, 5.95, 6.20, 5.80, 5.80, 5.75, 5.90, 5.85, 5.60, 5.50,
     5.60, 5.60, 4.50, 4.40, 4.45, 4.45, 4.20],
    [5.75, 4.45, 4.25, 3.95, 4.50, 4.50, 4.30, 4.60, 4.35, 4.75,
     4.55, 4.60, 4.40, 4.35, 4.35, 4.50, 4.55, 4.35, 4.25, 4.20,
     4.15, 4.25, 4.20, 4.30, 4.30, 4.20, 4.15],
    [4.00, 5.75, 5.80, 5.85, 3.95, 4.60, 4.65, 4.75, 4.35, 4.50,
     4.95, 4.50, 4.55, 4.35, 4.60, 4.40, 4.45, 4.70, 4.25, 4.30,
     4.50, 4.55, 4.40, 4.45, 4.40, 4.40, 4.40],
    [4.20, 4.70, 4.70, 4.60, 4.60, 4.60, 4.65, 4.55, 4.40, 4.55,
     4.60, 4.60, 4.65, 4.60, 4.55, 4.45, 4.50, 4.65, 4.35, 4.50,
     4.55, 4.50, 4.30, 4.35, 4.40, 4.35, 4.35],
    [4.50, 4.10, 4.25, 4.00, 4.45, 5.55, 4.10, 4.25, 4.00, 3.95,
     4.45, 4.30, 4.15, 4.05, 3.95, 4.15, 4.20, 4.20, 4.30, 4.25,
     4.25, 4.50, 4.00, 4.30, 4.30, 4.15, 4.60],
    [3.75, 3.50, 3.60, 3.50, 3.55, 3.60, 3.75, 3.85, 3.90, 3.90,
     3.75, 3.75, 3.80, 3.70, 3.60, 3.95, 3.85, 3.50, 3.55, 3.90,
     3.80, 3.85, 3.85, 3.80, 3.90, 4.25, 4.35],
    [3.80, 3.55, 3.40, 3.65, 4.10, 3.60, 4.05, 3.95, 3.75, 4.10,
     3.70, 3.80, 3.85, 3.70, 3.75, 3.90, 4.10, 3.75, 3.90, 4.20,
     4.35, 4.15, 4.15, 4.20, 4.30, 4.30, 3.70],
]
d_y_medivac = [
    [3.85, 3.80, 4.05, 3.80, 3.65, 3.55, 4.00, 3.50, 3.75, 3.70,
     3.85, 3.90, 3.95, 3.95, 3.90, 4.00, 4.15, 3.75, 3.85, 3.85,
     3.90, 3.75, 3.75, 4.00, 4.10, 3.80, 3.80],
]
d_z_marauder = [
    [4.30, 4.30, 4.30, 4.35, 4.20, 4.45, 4.20, 4.40, 4.05, 4.30,
     4.45, 4.35, 4.40, 4.55, 4.60, 4.15, 4.45, 4.45, 4.45, 4.55,
     4.40, 4.50, 4.10, 4.30, 4.45, 4.70, 4.50],
    [4.05, 4.20, 4.20, 4.10, 4.25, 4.30, 4.65, 4.45, 4.20, 4.45,
     4.45, 4.25, 4.05, 4.00, 4.30, 4.30, 4.00, 4.40, 4.50, 4.50,
     4.45, 4.45, 4.50, 4.40, 4.40, 4.20, 4.45],
    [3.95, 4.10, 3.90, 4.05, 4.00, 3.95, 3.95, 4.00, 3.95, 4.05,
     3.90, 4.00, 4.05, 3.95, 4.10, 4.30, 4.30, 4.20, 4.35, 4.40,
     4.30, 4.25, 4.25, 4.30, 4.35, 4.25, 4.50],
]
d_z_marine = [
    [5.60, 5.80, 5.55, 5.55, 4.50, 4.30, 4.15, 4.00, 3.95, 4.05,
     4.45, 4.20, 4.05, 4.05, 4.35, 4.30, 4.55, 4.55, 4.15, 3.80,
     4.20, 4.75, 4.35, 4.45, 4.30, 3.95, 4.05],
    [3.75, 6.05, 5.80, 5.95, 5.65, 5.80, 5.55, 5.50, 5.50, 5.55,
     5.75, 5.90, 5.75, 5.70, 5.55, 6.00, 5.75, 5.85, 5.70, 5.75,
     5.75, 5.65, 5.85, 5.95, 5.70, 5.75, 5.90],
    [3.55, 5.85, 5.60, 5.60, 4.50, 3.55, 5.50, 5.45, 5.45, 5.25,
     4.80, 4.30, 4.05, 4.05, 4.40, 4.35, 4.60, 4.60, 4.30, 3.85,
     3.85, 4.65, 4.65, 4.70, 4.95, 4.35, 4.25],
    [3.60, 3.65, 3.60, 4.00, 3.40, 3.40, 3.45, 3.40, 3.45, 3.20,
     3.20, 3.30, 3.35, 3.30, 3.25, 3.50, 3.55, 3.45, 3.70, 3.70,
     3.50, 3.65, 3.90, 3.90, 3.80, 3.70, 3.75],
    [3.55, 3.10, 3.00, 3.25, 3.25, 3.30, 3.30, 3.25, 3.55, 3.30,
     3.60, 3.65, 3.60, 3.35, 3.50, 3.65, 3.55, 3.65, 3.65, 3.75,
     3.65, 3.55, 3.85, 3.65, 3.60, 3.65, 3.60],
    [3.85, 2.85, 2.90, 3.30, 3.95, 4.45, 3.90, 5.75, 5.50, 5.35,
     5.75, 5.55, 5.55, 5.25, 4.95, 4.95, 4.95, 5.20, 4.15, 3.75,
     3.55, 4.40, 3.85, 3.85, 3.75, 3.65, 3.65],
    [3.55, 3.85, 4.55, 4.30, 4.40, 4.25, 3.90, 3.95, 3.90, 4.05,
     4.20, 4.20, 4.65, 4.60, 4.70, 4.45, 4.55, 4.55, 4.70, 4.00,
     4.00, 4.40, 4.65, 4.70, 4.55, 4.10, 4.15],
]
d_z_medivac = [
    [5.50, 5.55, 5.60, 5.35, 5.45, 5.30, 5.30, 5.40, 5.30, 5.60,
     5.20, 5.30, 5.50, 5.35, 5.35, 5.40, 5.50, 5.60, 5.75, 5.55,
     5.60, 5.45, 5.25, 5.65, 5.65, 5.75, 5.35],
]

# y tick values per panel (X, Y, Z rows) and x tick spacing
a_yticks = [[3, 4, 5], [4, 5, 6], [3, 4, 5]]
b_yticks = [[3, 4, 5], [4, 6], [4, 6]]
c_yticks = [[4, 6], [4, 6], [4, 6]]
d_yticks = [[4, 6], [4, 6], [4, 6]]
xtick_steps = [10, 5, 5, 5]

# the newly added unit in each scenario is drawn with dots: (unit index, line index)
marked = [None, (2, 0), (1, 0), (0, 0)]

panels = [
    [(a_x_marauder, a_x_marine, a_x_medivac),
     (a_y_marauder, a_y_marine, a_y_medivac),
     (a_z_marauder, a_z_marine, a_z_medivac)],
    [(b_x_marauder, b_x_marine, b_x_medivac),
     (b_y_marauder, b_y_marine, b_y_medivac),
     (b_z_marauder, b_z_marine, b_z_medivac)],
    [(c_x_marauder, c_x_marine, c_x_medivac),
     (c_y_marauder, c_y_marine, c_y_medivac),
     (c_z_marauder, c_z_marine, c_z_medivac)],
    [(d_x_marauder, d_x_marine, d_x_medivac),
     (d_y_marauder, d_y_marine, d_y_medivac),
     (d_z_marauder, d_z_marine, d_z_medivac)],
]
yticks_all = [a_yticks, b_yticks, c_yticks, d_yticks]

# ---------------- figure ----------------
fig = plt.figure(figsize=(36.19, 8.84), dpi=100)

lefts = [0.03647, 0.27853, 0.52020, 0.76226]
bottoms = [0.700, 0.4785, 0.2571]
width, height = 0.20558, 0.184
label_x = [0.1362, 0.3786, 0.6201, 0.8621]

for p in range(4):
    for r in range(3):
        ax = fig.add_axes([lefts[p], bottoms[r], width, height])
        for u, lines in enumerate(panels[p][r]):
            for k, vals in enumerate(lines):
                mk = "o" if marked[p] == (u, k) else None
                ax.plot(np.arange(len(vals)), vals, color=unit_colors[u],
                        lw=2.1, marker=mk, ms=5)
        ax.set_yticks(yticks_all[p][r])
        ax.xaxis.set_major_locator(MultipleLocator(xtick_steps[p]))
        ax.tick_params(labelsize=14, width=1.1, length=4.9, pad=4.9)
        ax.set_ylabel(axis_names[r], fontsize=14, labelpad=8)
        for s in ax.spines.values():
            s.set_linewidth(1.2)
        if r == 0:
            ax.set_title(titles[p], fontsize=22.5, pad=9)
        if r == 2:
            ax.set_xlabel("Step", fontsize=14.5, labelpad=6)
    fig.text(label_x[p], 0.080, sub_labels[p], ha="center", va="center", fontsize=25)

handles = [Line2D([], [], color=c, lw=2.4) for c in unit_colors]
fig.legend(handles, unit_names, loc="center", bbox_to_anchor=(0.4934, 0.144),
           ncol=3, frameon=False, fontsize=22, handlelength=2.13,
           handletextpad=0.9, columnspacing=2.0)

fig.savefig("out.png", dpi=100)
